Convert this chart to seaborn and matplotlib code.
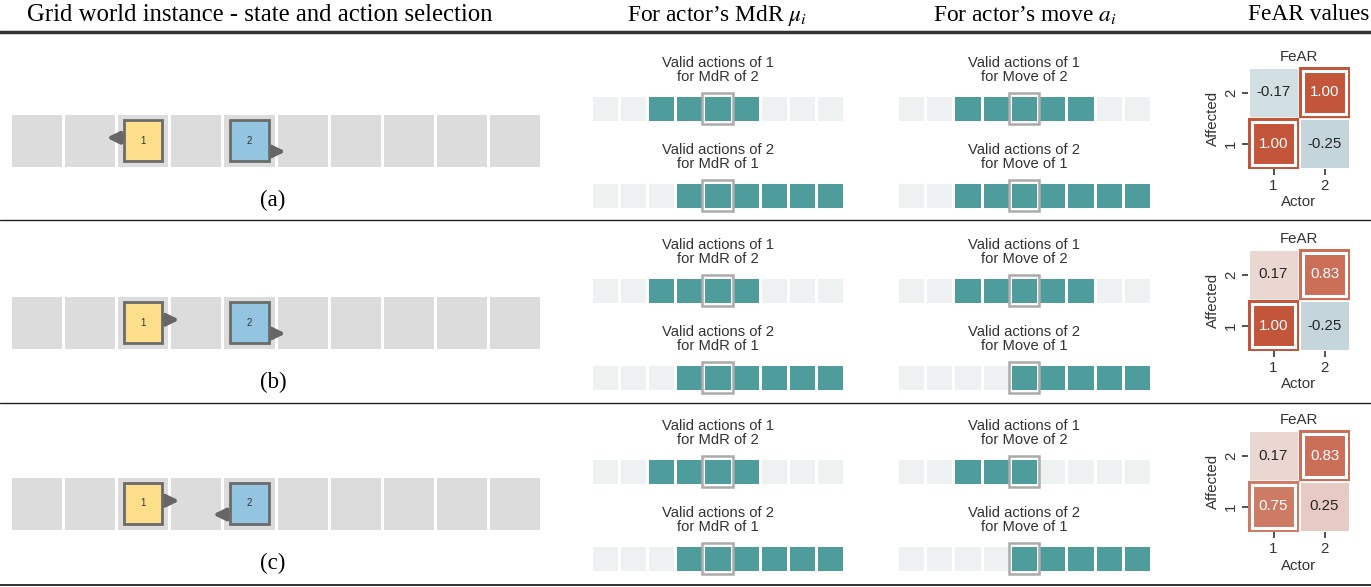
import numpy as np
import pandas as pd
import matplotlib
matplotlib.use("Agg")
import matplotlib.pyplot as plt
import seaborn as sns
from matplotlib.colors import ListedColormap, Normalize
from matplotlib.patches import Rectangle
from matplotlib.lines import Line2D

# ---------------- data ----------------
header_titles = ["Grid world instance - state and action selection",
                 "For actor\u2019s MdR $\\mu_i$",
                 "For actor\u2019s move $a_i$",
                 "FeAR values"]
scenario_labels = ["(a)", "(b)", "(c)"]
agent_ids = ["1", "2"]
n_grid_cells = 10
agent1_cell = [2, 2, 2]
agent2_cell = [4, 4, 4]
agent1_dir = [-1, 1, 1]     # arrow direction of agent 1 (-1 left, +1 right)
agent2_dir = [1, 1, -1]     # arrow direction of agent 2

# valid actions (9 actions, 1 = valid), stay action highlighted
stay_action = 4
mdr_valid_1 = [[0, 0, 1, 1, 1, 1, 0, 0, 0],
               [0, 0, 1, 1, 1, 1, 0, 0, 0],
               [0, 0, 1, 1, 1, 1, 0, 0, 0]]
mdr_valid_2 = [[0, 0, 0, 1, 1, 1, 1, 1, 1],
               [0, 0, 0, 1, 1, 1, 1, 1, 1],
               [0, 0, 0, 1, 1, 1, 1, 1, 1]]
move_valid_1 = [[0, 0, 1, 1, 1, 1, 1, 0, 0],
                [0, 0, 1, 1, 1, 1, 1, 0, 0],
                [0, 0, 1, 1, 1, 0, 0, 0, 0]]
move_valid_2 = [[0, 0, 1, 1, 1, 1, 1, 1, 1],
                [0, 0, 0, 0, 1, 1, 1, 1, 1],
                [0, 0, 0, 0, 1, 1, 1, 1, 1]]

affected_labels = ["2", "1"]   # rows top -> bottom
actor_labels = ["1", "2"]
fear_a = [[-0.17, 1.00], [1.00, -0.25]]
fear_b = [[0.17, 0.83], [1.00, -0.25]]
fear_c = [[0.17, 0.83], [0.75, 0.25]]
fear_values = [fear_a, fear_b, fear_c]

# ---------------- style ----------------
sns.set_theme(style="white")
plt.rcParams["font.family"] = ["Liberation Sans", "DejaVu Sans"]
plt.rcParams["mathtext.fontset"] = "stix"

W, H = 1371, 587
fig = plt.figure(figsize=(W / 100, H / 100), dpi=100)


def add_ax(x0, y0, x1, y1):
    return fig.add_axes([x0 / W, 1 - y1 / H, (x1 - x0) / W, (y1 - y0) / H])


def fx(x):
    return x / W


def fy(y):
    return 1 - y / H


# header
header_x = [260, 717, 1025, 1309]
header_fs = [17.8, 16.8, 16.8, 16.8]
for t, x, fs in zip(header_titles, header_x, header_fs):
    fig.text(fx(x), fy(15), t, ha="center", va="center", fontsize=fs,
             family="Liberation Serif", color="black")

fig.add_artist(Line2D([0, 1], [fy(32), fy(32)], color="#333333", lw=2.5))
for yline in [220, 403]:
    fig.add_artist(Line2D([0, 1], [fy(yline), fy(yline)], color="#222222", lw=1.0))
fig.add_artist(Line2D([0, 1], [fy(584.5), fy(584.5)], color="#222222", lw=1.3))

grid_cmap = ListedColormap(["#dcdcdc"])
strip_cmap = ListedColormap(["#edf1f2", "#4e9c9b"])
fear_cmap = sns.diverging_palette(220, 20, as_cmap=True)
fear_norm = Normalize(vmin=-1, vmax=1)
agent_colors = ["#fddf8b", "#93c4e0"]
arrow_color = "#666666"
text_dark = "#333333"

row_offsets = [0, 182, 363]


def draw_strip(ax, values):
    sns.heatmap(np.array([values]), cmap=strip_cmap, vmin=0, vmax=1, cbar=False,
                linewidths=0.75, linecolor="white", xticklabels=False,
                yticklabels=False, ax=ax)
    ax.add_patch(Rectangle((stay_action - 0.04, -0.06), 1.08, 1.12, fill=False,
                           edgecolor="#ababab", lw=1.8, clip_on=False, zorder=4))


for i, off in enumerate(row_offsets):
    # ---- grid world ----
    ax = add_ax(10, 113 + off, 541, 168 + off)
    sns.heatmap(np.zeros((1, n_grid_cells)), cmap=grid_cmap, cbar=False,
                linewidths=1.0, linecolor="white", xticklabels=False,
                yticklabels=False, ax=ax)
    cells = [agent1_cell[i], agent2_cell[i]]
    dirs = [agent1_dir[i], agent2_dir[i]]
    arrow_y = [0.45, 0.70]
    for k in range(2):
        c = cells[k]
        ax.add_patch(Rectangle((c + 0.14, 0.12), 0.73, 0.76, facecolor=agent_colors[k],
                               edgecolor="#6b6b6b", lw=2, zorder=3))
        ax.text(c + 0.505, 0.5, agent_ids[k], ha="center", va="center",
                fontsize=7, color=text_dark, zorder=4)
        start = c + 0.87 if dirs[k] > 0 else c + 0.14
        end = start + 0.32 * dirs[k]
        ax.annotate("", xy=(end, arrow_y[k]), xytext=(start, arrow_y[k]),
                    arrowprops=dict(arrowstyle="-|>,head_length=0.65,head_width=0.32",
                                    color=arrow_color, lw=3.0, shrinkA=0, shrinkB=0,
                                    mutation_scale=11),
                    zorder=2)
    fig.text(fx(273), fy(200 + off), scenario_labels[i], ha="center", va="center",
             fontsize=16.5, family="Liberation Serif", color="black")

    # ---- valid-action strips ----
    strips = [(591, 844, 95, mdr_valid_1[i], "Valid actions of 1\nfor MdR of 2"),
              (591, 844, 182, mdr_valid_2[i], "Valid actions of 2\nfor MdR of 1"),
              (897, 1151, 95, move_valid_1[i], "Valid actions of 1\nfor Move of 2"),
              (897, 1151, 182, move_valid_2[i], "Valid actions of 2\nfor Move of 1")]
    for x0, x1, y0, vals, title in strips:
        sax = add_ax(x0, y0 + off, x1, y0 + 27 + off)
        draw_strip(sax, vals)
        fig.text(fx((x0 + x1) / 2), fy(y0 - 25 + off), title, ha="center", va="center",
                 fontsize=10.6, color=text_dark, linespacing=1.08)

    # ---- FeAR heatmap ----
    fax = add_ax(1248, 67 + off, 1350, 169 + off)
    df = pd.DataFrame(fear_values[i], index=affected_labels, columns=actor_labels)
    sns.heatmap(df, cmap=fear_cmap, vmin=-1, vmax=1, center=0, annot=True, fmt=".2f",
                annot_kws={"fontsize": 10.8}, cbar=False, linewidths=0.8,
                linecolor="white", ax=fax)
    for r in range(2):
        for cc in range(2):
            if affected_labels[r] == actor_labels[cc]:
                col = fear_cmap(fear_norm(fear_values[i][r][cc]))
                fax.add_patch(Rectangle((cc + 0.01, r + 0.01), 0.98, 0.98, fill=False,
                                        edgecolor=col, lw=1.6, zorder=3))
                fax.add_patch(Rectangle((cc + 0.075, r + 0.075), 0.85, 0.85, fill=False,
                                        edgecolor="white", lw=2.2, zorder=3))
    fax.set_title("FeAR", fontsize=10.8, color=text_dark, pad=4)
    fax.set_xlabel("Actor", fontsize=10.8, color=text_dark, labelpad=2)
    fax.set_ylabel("Affected", fontsize=10.8, color=text_dark, labelpad=3)
    fax.tick_params(axis="both", which="both", length=4, width=1.2, color=text_dark,
                    labelsize=10.8, labelcolor=text_dark, left=True, bottom=True, pad=3)
    plt.setp(fax.get_yticklabels(), rotation=90, va="center")
    plt.setp(fax.get_xticklabels(), rotation=0)

fig.savefig("out.png", dpi=100)
